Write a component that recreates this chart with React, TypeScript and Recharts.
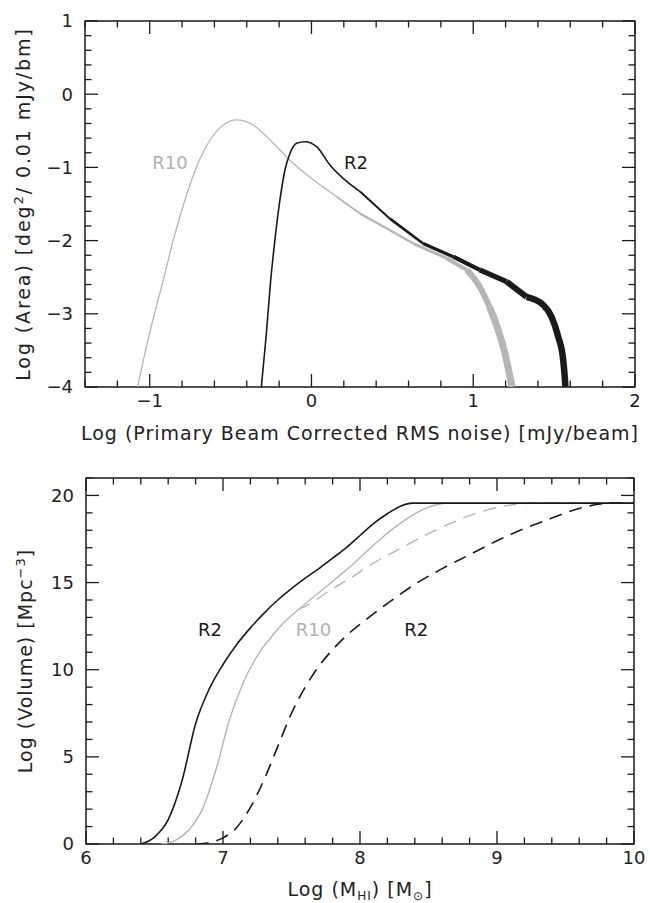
import { LineChart, Line, XAxis, YAxis, ReferenceDot, ReferenceLine, ReferenceArea } from 'recharts';

type Pt = { x: number; y: number };

// upper panel: log area per 0.01 mJy/beam bin vs log corrected rms noise
const r10Area: Pt[] = [
  { x: -1.075, y: -4 }, { x: -1.015, y: -3.4 }, { x: -0.965, y: -2.95 }, { x: -0.916, y: -2.54 },
  { x: -0.854, y: -1.99 }, { x: -0.782, y: -1.445 }, { x: -0.71, y: -0.99 }, { x: -0.627, y: -0.626 },
  { x: -0.545, y: -0.42 }, { x: -0.463, y: -0.352 }, { x: -0.36, y: -0.42 }, { x: -0.236, y: -0.67 },
  { x: -0.113, y: -0.944 }, { x: 0.011, y: -1.17 }, { x: 0.156, y: -1.4 }, { x: 0.3, y: -1.63 },
  { x: 0.485, y: -1.86 }, { x: 0.63, y: -2.04 }, { x: 0.835, y: -2.24 }, { x: 0.96, y: -2.4 },
  { x: 1.04, y: -2.63 }, { x: 1.1, y: -2.9 }, { x: 1.154, y: -3.22 }, { x: 1.196, y: -3.54 },
  { x: 1.227, y: -3.86 }, { x: 1.24, y: -4 },
];

const r2Area: Pt[] = [
  { x: -0.31, y: -4 }, { x: -0.28, y: -3.3 }, { x: -0.252, y: -2.54 }, { x: -0.226, y: -1.99 },
  { x: -0.195, y: -1.445 }, { x: -0.164, y: -1.035 }, { x: -0.133, y: -0.81 }, { x: -0.092, y: -0.67 },
  { x: -0.04, y: -0.649 }, { x: 0.032, y: -0.717 }, { x: 0.114, y: -0.967 }, { x: 0.196, y: -1.15 },
  { x: 0.3, y: -1.33 }, { x: 0.485, y: -1.7 }, { x: 0.69, y: -2.04 }, { x: 0.876, y: -2.22 },
  { x: 1.04, y: -2.4 }, { x: 1.206, y: -2.56 }, { x: 1.33, y: -2.77 }, { x: 1.433, y: -2.88 },
  { x: 1.484, y: -3.04 }, { x: 1.525, y: -3.31 }, { x: 1.556, y: -3.63 }, { x: 1.567, y: -3.9 },
  { x: 1.57, y: -4 },
];

// lower panel: log volume vs log HI mass
const r2Volume: Pt[] = [
  { x: 6.4, y: 0 }, { x: 6.5, y: 0.4 }, { x: 6.6, y: 1.4 }, { x: 6.7, y: 3.6 }, { x: 6.8, y: 6.9 },
  { x: 6.9, y: 8.9 }, { x: 7.0, y: 10.3 }, { x: 7.1, y: 11.45 }, { x: 7.2, y: 12.4 }, { x: 7.3, y: 13.25 },
  { x: 7.4, y: 14.0 }, { x: 7.5, y: 14.65 }, { x: 7.6, y: 15.25 }, { x: 7.7, y: 15.8 }, { x: 7.8, y: 16.4 },
  { x: 7.9, y: 17.0 }, { x: 8.0, y: 17.7 }, { x: 8.1, y: 18.4 }, { x: 8.2, y: 18.95 }, { x: 8.3, y: 19.4 },
  { x: 8.38, y: 19.56 }, { x: 10, y: 19.56 },
];

const r10Volume: Pt[] = [
  { x: 6.55, y: 0 }, { x: 6.65, y: 0.2 }, { x: 6.75, y: 0.8 }, { x: 6.85, y: 2.0 }, { x: 6.95, y: 4.3 },
  { x: 7.05, y: 7.2 }, { x: 7.15, y: 9.3 }, { x: 7.25, y: 10.8 }, { x: 7.35, y: 11.85 }, { x: 7.45, y: 12.75 },
  { x: 7.55, y: 13.45 }, { x: 7.65, y: 14.1 }, { x: 7.75, y: 14.75 }, { x: 7.85, y: 15.4 }, { x: 7.95, y: 16.05 },
  { x: 8.05, y: 16.8 }, { x: 8.15, y: 17.5 }, { x: 8.25, y: 18.15 }, { x: 8.35, y: 18.7 }, { x: 8.45, y: 19.15 },
  { x: 8.55, y: 19.45 }, { x: 8.65, y: 19.56 }, { x: 10, y: 19.56 },
];

const r10VolumeDashed: Pt[] = [
  { x: 7.55, y: 13.45 }, { x: 7.61, y: 13.68 }, { x: 7.79, y: 14.6 }, { x: 7.95, y: 15.36 },
  { x: 8.1, y: 16.13 }, { x: 8.28, y: 16.89 }, { x: 8.46, y: 17.65 }, { x: 8.64, y: 18.32 },
  { x: 8.82, y: 18.9 }, { x: 9.0, y: 19.31 }, { x: 9.18, y: 19.52 }, { x: 9.27, y: 19.56 },
  { x: 10, y: 19.56 },
];

const r2VolumeDashed: Pt[] = [
  { x: 6.8, y: 0 }, { x: 6.9, y: 0.08 }, { x: 7.0, y: 0.35 }, { x: 7.1, y: 0.95 }, { x: 7.2, y: 2.1 },
  { x: 7.3, y: 3.7 }, { x: 7.4, y: 5.6 }, { x: 7.5, y: 7.5 }, { x: 7.6, y: 9.0 }, { x: 7.7, y: 10.2 },
  { x: 7.8, y: 11.15 }, { x: 7.9, y: 11.95 }, { x: 8.0, y: 12.6 }, { x: 8.2, y: 13.8 }, { x: 8.4, y: 14.9 },
  { x: 8.6, y: 15.8 }, { x: 8.8, y: 16.6 }, { x: 9.0, y: 17.4 }, { x: 9.2, y: 18.1 }, { x: 9.4, y: 18.7 },
  { x: 9.6, y: 19.25 }, { x: 9.8, y: 19.55 }, { x: 9.85, y: 19.56 }, { x: 10, y: 19.56 },
];

// ticks
const areaXTicks = [-1.4, -1.2, -1, -0.8, -0.6, -0.4, -0.2, 0, 0.2, 0.4, 0.6, 0.8, 1, 1.2, 1.4, 1.6, 1.8, 2];
const areaXMajor = [-1, 0, 1, 2];
const areaYTicks = [-4, -3.8, -3.6, -3.4, -3.2, -3, -2.8, -2.6, -2.4, -2.2, -2, -1.8, -1.6, -1.4, -1.2, -1,
  -0.8, -0.6, -0.4, -0.2, 0, 0.2, 0.4, 0.6, 0.8, 1];
const areaYMajor = [-4, -3, -2, -1, 0, 1];

const volXTicks = [6, 6.2, 6.4, 6.6, 6.8, 7, 7.2, 7.4, 7.6, 7.8, 8, 8.2, 8.4, 8.6, 8.8, 9, 9.2, 9.4, 9.6, 9.8, 10];
const volXMajor = [6, 7, 8, 9, 10];
const volYTicks = [0, 1, 2, 3, 4, 5, 6, 7, 8, 9, 10, 11, 12, 13, 14, 15, 16, 17, 18, 19, 20, 21];
const volYMajor = [0, 5, 10, 15, 20];

const areaLabels = [
  { text: 'R10', x: -0.875, y: -0.93, grey: true },
  { text: 'R2', x: 0.275, y: -0.93, grey: false },
];
const volLabels = [
  { text: 'R2', x: 6.905, y: 12.3, grey: false },
  { text: 'R10', x: 7.66, y: 12.3, grey: true },
  { text: 'R2', x: 8.41, y: 12.3, grey: false },
];

const INK = '#1a1a1a';
const GREY = '#b5b5b5';
const FONT = '"DejaVu Sans", sans-serif';
const tickFont = { fill: '#222', fontSize: 18, fontFamily: FONT };
const titleStyle = { fontSize: 19, fontFamily: FONT, fill: '#222', letterSpacing: 1 };

// noisy tails drawn as progressively thicker strokes
const r10Bands = [
  { from: -1.1, to: 0.156, width: 1.3 },
  { from: 0.156, to: 0.3, width: 1.8 },
  { from: 0.3, to: 0.63, width: 2.3 },
  { from: 0.63, to: 0.835, width: 3 },
  { from: 0.835, to: 0.96, width: 4 },
  { from: 0.96, to: 1.1, width: 6 },
  { from: 1.1, to: 1.3, width: 7 },
];
const r2Bands = [
  { from: -0.4, to: 0.3, width: 1.6 },
  { from: 0.3, to: 0.485, width: 2 },
  { from: 0.485, to: 0.69, width: 2.6 },
  { from: 0.69, to: 0.876, width: 3.4 },
  { from: 0.876, to: 1.04, width: 4.2 },
  { from: 1.04, to: 1.206, width: 5.2 },
  { from: 1.206, to: 1.33, width: 6 },
  { from: 1.33, to: 1.6, width: 6.5 },
];

type Box = { x0: number; x1: number; y0: number; y1: number; w: number; h: number };
// domains and plot sizes in px of the two panels
const areaBox: Box = { x0: -1.4, x1: 2, y0: -4, y1: 1, w: 550, h: 366 };
const volBox: Box = { x0: 6, x1: 10, y0: 0, y1: 21, w: 548, h: 366 };

const isMajor = (v: number, majors: number[]) => majors.some((m) => Math.abs(m - v) < 1e-6);
const fmt = (v: number) => (v < 0 ? `\u2212${Math.abs(v)}` : `${v}`);

// inward ticks on all four sides, lengths given in px and turned into data units
const tickSegments = (b: Box, xs: number[], xMaj: number[], ys: number[], yMaj: number[]) => {
  const ux = (b.x1 - b.x0) / b.w;
  const uy = (b.y1 - b.y0) / b.h;
  const segs: Pt[][] = [];
  xs.forEach((v) => {
    const l = (isMajor(v, xMaj) ? 13 : 6.5) * uy;
    segs.push([{ x: v, y: b.y0 }, { x: v, y: b.y0 + l }]);
    segs.push([{ x: v, y: b.y1 }, { x: v, y: b.y1 - l }]);
  });
  ys.forEach((v) => {
    const l = (isMajor(v, yMaj) ? 13 : 6.5) * ux;
    segs.push([{ x: b.x0, y: v }, { x: b.x0 + l, y: v }]);
    segs.push([{ x: b.x1, y: v }, { x: b.x1 - l, y: v }]);
  });
  return segs;
};

const frameAndTicks = (b: Box, xs: number[], xMaj: number[], ys: number[], yMaj: number[]) => [
  <ReferenceArea key="frame" xAxisId="b" yAxisId="l" x1={b.x0} x2={b.x1} y1={b.y0} y2={b.y1}
    fill="none" fillOpacity={0} stroke={INK} strokeWidth={1.5} strokeOpacity={1} ifOverflow="visible" />,
  ...tickSegments(b, xs, xMaj, ys, yMaj).map((s, i) => (
    <ReferenceLine key={`t${i}`} xAxisId="b" yAxisId="l" segment={s} stroke={INK} strokeWidth={1.3}
      ifOverflow="visible" />
  )),
];

const axisCommon = {
  type: 'number' as const,
  interval: 0 as const,
  tickSize: 0,
  tickLine: false,
  axisLine: false,
  allowDataOverflow: true,
  tick: tickFont,
  tickFormatter: fmt,
};

const AreaPanel = () => (
  <LineChart width={650} height={450} margin={{ top: 21, right: 15, bottom: 0, left: 0 }}>
    <XAxis {...axisCommon} xAxisId="b" dataKey="x" domain={[areaBox.x0, areaBox.x1]} ticks={areaXMajor}
      height={63} tickMargin={7} />
    <YAxis {...axisCommon} yAxisId="l" dataKey="y" domain={[areaBox.y0, areaBox.y1]} ticks={areaYMajor}
      width={85} tickMargin={12} />
    {frameAndTicks(areaBox, areaXTicks, areaXMajor, areaYTicks, areaYMajor)}
    {r10Bands.map((b, i) => (
      <Line key={`r10-${i}`} xAxisId="b" yAxisId="l" data={r10Area.filter((p) => p.x >= b.from && p.x <= b.to)}
        dataKey="y" type="monotone" stroke={GREY} strokeWidth={b.width} dot={false} isAnimationActive={false}
        strokeLinejoin="round" />
    ))}
    {r2Bands.map((b, i) => (
      <Line key={`r2-${i}`} xAxisId="b" yAxisId="l" data={r2Area.filter((p) => p.x >= b.from && p.x <= b.to)}
        dataKey="y" type="monotone" stroke={INK} strokeWidth={b.width} dot={false} isAnimationActive={false}
        strokeLinejoin="round" />
    ))}
    {areaLabels.map((l) => (
      <ReferenceDot key={l.text} xAxisId="b" yAxisId="l" x={l.x} y={l.y} r={0} fill="none" stroke="none"
        ifOverflow="visible"
        label={{ value: l.text, position: 'center', fill: l.grey ? '#b0b0b0' : INK, fontSize: 18, fontFamily: FONT }} />
    ))}
    <text x={360} y={440} textAnchor="middle" {...titleStyle}>
      Log (Primary Beam Corrected RMS noise) [mJy/beam]
    </text>
    <text x={30} y={204} textAnchor="middle" transform="rotate(-90, 30, 204)" {...titleStyle} letterSpacing={1.9}>
      Log (Area) [deg<tspan dy={-7} fontSize={13}>2</tspan><tspan dy={7}>/ 0.01 mJy/bm]</tspan>
    </text>
  </LineChart>
);

const VolumePanel = () => (
  <LineChart width={650} height={453} margin={{ top: 28, right: 16, bottom: 0, left: 0 }}>
    <XAxis {...axisCommon} xAxisId="b" dataKey="x" domain={[volBox.x0, volBox.x1]} ticks={volXMajor}
      height={59} tickMargin={7} />
    <YAxis {...axisCommon} yAxisId="l" dataKey="y" domain={[volBox.y0, volBox.y1]} ticks={volYMajor}
      width={86} tickMargin={12} />
    {frameAndTicks(volBox, volXTicks, volXMajor, volYTicks, volYMajor)}
    <Line xAxisId="b" yAxisId="l" data={r10VolumeDashed} dataKey="y" type="monotone" stroke={GREY} strokeWidth={1.4}
      strokeDasharray="13 8" dot={false} isAnimationActive={false} />
    <Line xAxisId="b" yAxisId="l" data={r10Volume} dataKey="y" type="monotone" stroke={GREY} strokeWidth={1.4}
      dot={false} isAnimationActive={false} />
    <Line xAxisId="b" yAxisId="l" data={r2VolumeDashed} dataKey="y" type="monotone" stroke={INK} strokeWidth={1.6}
      strokeDasharray="13 8" dot={false} isAnimationActive={false} />
    <Line xAxisId="b" yAxisId="l" data={r2Volume} dataKey="y" type="monotone" stroke={INK} strokeWidth={1.6}
      dot={false} isAnimationActive={false} />
    {volLabels.map((l, i) => (
      <ReferenceDot key={i} xAxisId="b" yAxisId="l" x={l.x} y={l.y} r={0} fill="none" stroke="none"
        ifOverflow="visible"
        label={{ value: l.text, position: 'center', fill: l.grey ? '#b0b0b0' : INK, fontSize: 18, fontFamily: FONT }} />
    ))}
    <text x={360} y={446} textAnchor="middle" {...titleStyle}>
      Log (M<tspan dy={4} fontSize={12}>HI</tspan><tspan dy={-4}>) [M</tspan>
      <tspan dy={4} fontSize={12}>⊙</tspan><tspan dy={-4}>]</tspan>
    </text>
    <text x={32} y={211} textAnchor="middle" transform="rotate(-90, 32, 211)" {...titleStyle}>
      Log (Volume) [Mpc<tspan dy={-7} fontSize={13}>−3</tspan><tspan dy={7}>]</tspan>
    </text>
  </LineChart>
);

export default function App() {
  return (
    <div style={{ position: 'absolute', left: 0, top: 0, width: 650, height: 903, background: '#fff' }}>
      <AreaPanel />
      <VolumePanel />
    </div>
  );
}
